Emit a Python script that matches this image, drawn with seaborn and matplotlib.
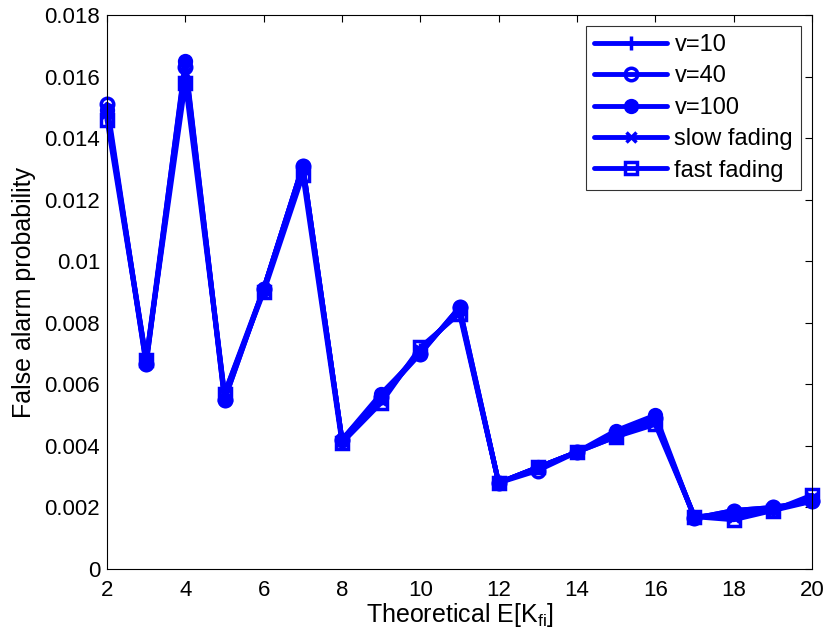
import matplotlib
matplotlib.use("Agg")
import matplotlib.pyplot as plt
import seaborn as sns
import pandas as pd
import numpy as np

x = [2, 3, 4, 5, 6, 7, 8, 9, 10, 11, 12, 13, 14, 15, 16, 17, 18, 19, 20]
v10 = [0.0149, 0.0068, 0.0164, 0.0056, 0.0091, 0.0131, 0.0042, 0.0056, 0.0071, 0.0084, 0.0028, 0.0033, 0.0038, 0.0044, 0.0048, 0.0017, 0.0018, 0.0019, 0.0022]
v40 = [0.0151, 0.00665, 0.0163, 0.0055, 0.0091, 0.0131, 0.0042, 0.0056, 0.0070, 0.0085, 0.0028, 0.0032, 0.0038, 0.0044, 0.0049, 0.00165, 0.0019, 0.0020, 0.0022]
v100 = [0.0149, 0.00665, 0.0165, 0.0055, 0.0091, 0.0131, 0.0042, 0.0057, 0.0070, 0.0085, 0.0028, 0.0033, 0.0038, 0.0045, 0.0050, 0.00165, 0.0019, 0.0020, 0.0022]
slow = [0.0148, 0.0068, 0.0161, 0.0057, 0.0091, 0.0130, 0.0042, 0.0055, 0.0071, 0.0084, 0.0028, 0.0033, 0.0038, 0.0043, 0.0048, 0.0017, 0.0017, 0.0019, 0.0023]
fast = [0.0146, 0.0068, 0.0158, 0.0057, 0.0090, 0.0128, 0.0041, 0.0054, 0.0072, 0.0083, 0.0028, 0.0033, 0.0038, 0.0043, 0.0047, 0.0017, 0.0016, 0.0019, 0.0024]
labels = ["v=10", "v=40", "v=100", "slow fading", "fast fading"]
yticklabels = ['0', '0.002', '0.004', '0.006', '0.008', '0.01', '0.012', '0.014', '0.016', '0.018']

sns.set_style("white")
plt.rcParams['font.family'] = ['Liberation Sans', 'DejaVu Sans']
plt.rcParams['text.color'] = 'black'
plt.rcParams['axes.labelcolor'] = 'black'

fig = plt.figure(figsize=(8.26, 6.41), dpi=100)
ax = fig.add_axes([107/826, 1-569/641, (812-107)/826, (569-15)/641])

styles = [
    dict(marker='+', markersize=10, markeredgewidth=2.5),
    dict(marker='o', markersize=9, markerfacecolor='none', markeredgewidth=2.5),
    dict(marker='o', markersize=9, markeredgewidth=2),
    dict(marker='x', markersize=7, markeredgewidth=2.5),
    dict(marker='s', markersize=9, markerfacecolor='none', markeredgewidth=2.5),
]
for lab, ys, st in zip(labels, [v10, v40, v100, slow, fast], styles):
    df = pd.DataFrame({"x": x, "y": ys})
    sns.lineplot(data=df, x="x", y="y", ax=ax, color='blue', linewidth=3.5,
                 label=lab, markeredgecolor='blue', clip_on=False, **st)

ax.set_xlim(2, 20)
ax.set_ylim(0, 0.018)
ax.set_xticks(np.arange(2, 21, 2))
ax.set_yticks(np.arange(0, 0.0181, 0.002))
ax.set_yticklabels(yticklabels)
ax.tick_params(direction='in', length=5, labelsize=16, top=True, right=True, width=0.8,
               colors='black', labelcolor='black')
ax.tick_params(axis='x', pad=8)
ax.tick_params(axis='y', pad=5)
for s in ax.spines.values():
    s.set_color('black')
    s.set_linewidth(0.8)
ax.set_xlabel(r'Theoretical E[K$_{\mathregular{fi}}$]', fontsize=18, labelpad=0)
ax.set_ylabel('False alarm probability', fontsize=18, labelpad=6)

leg = ax.legend(loc='upper right', fontsize=17, frameon=True, fancybox=False,
                edgecolor='black', borderpad=0.35, labelspacing=0.4, handlelength=3.1,
                handletextpad=0.3, borderaxespad=0.45)
leg.get_frame().set_linewidth(0.8)
for t in leg.get_texts():
    t.set_color('black')

fig.savefig('out.png', dpi=100)
